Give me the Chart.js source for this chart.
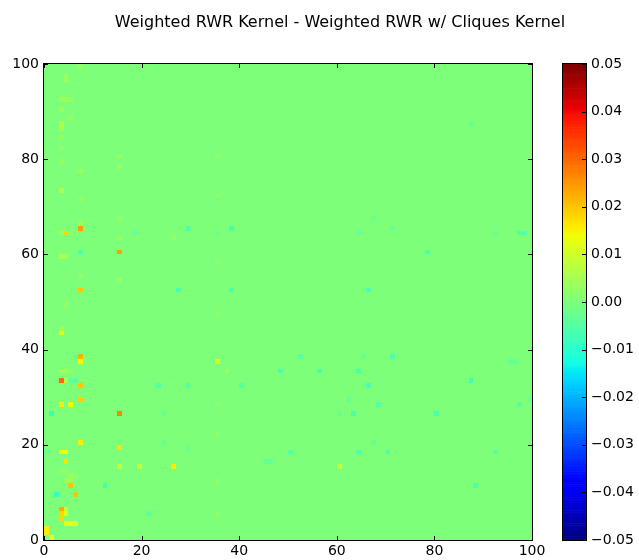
<!DOCTYPE html>
<html>
<head>
<meta charset="utf-8">
<script src="https://cdn.jsdelivr.net/npm/chart.js@4.4.0/dist/chart.umd.min.js"></script>
<style>
  body { margin: 0; background: #fff; }
  #wrap { position: relative; width: 639px; height: 560px; }
  #wrap canvas { position: absolute; top: 0; }
</style>
</head>
<body>
<div id="wrap">
  <canvas id="heat" width="639" height="560" style="left:0"></canvas>
  <canvas id="cbar" width="99" height="560" style="left:540px"></canvas>
</div>
<script>
'use strict';

var title = 'Weighted RWR Kernel - Weighted RWR w/ Cliques Kernel';
var nCols = 100, nRows = 100;
var axisTicks = [0, 20, 40, 60, 80, 100];
var vMin = -0.05, vMax = 0.05;
var cbarTicks = [-0.05, -0.04, -0.03, -0.02, -0.01, 0, 0.01, 0.02, 0.03, 0.04, 0.05];

// cells that differ from 0 (everything else reads as 0.00)
var hotCol = [7, 15, 7, 7, 3, 15, 3, 7, 6, 7, 4, 5, 6, 7, 7, 3, 5, 1, 7, 15,
  3, 4, 4, 5, 12, 2, 6, 3, 3, 3, 4, 4, 4, 5, 6, 0, 0, 1, 0, 4,
  18, 3, 4, 7, 3, 3, 3, 4, 4, 3, 4, 5, 3, 5, 7, 7, 3, 3, 3, 7,
  3, 5, 7, 3, 4, 3, 4, 5, 3, 4, 5, 6, 4, 5, 15, 15, 15, 15, 15, 15,
  19, 26, 26,
  29, 38, 27, 38, 35, 37, 48, 23, 29, 40, 35, 52, 97, 98, 78, 66, 65, 71, 56, 64,
  87, 66, 95, 96, 68, 62, 63, 80, 97, 99, 60, 50, 64, 70, 92, 60, 88, 67, 67, 64,
  92, 71, 24, 24, 45, 46, 21, 29, 87, 35, 35, 35, 35, 35, 35, 35, 35];
var hotRow = [65, 60, 60, 52, 33, 26, 43, 38, 38, 37, 33, 33, 33, 32, 29, 28, 28, 26, 20, 19,
  18, 18, 16, 11, 11, 9, 9, 6, 5, 4, 5, 6, 3, 3, 3, 2, 1, 0, 18, 64,
  64, 59, 59, 66, 73, 87, 86, 97, 96, 92, 92, 92, 90, 88, 99, 77, 79, 84, 82, 71,
  64, 64, 55, 44, 49, 35, 35, 35, 14, 14, 13, 13, 12, 12, 80, 78, 67, 63, 54, 15,
  15, 15, 63,
  65, 65, 52, 52, 37, 35, 35, 32, 32, 32, 64, 38, 64, 64, 60, 52, 38, 38, 35, 35,
  33, 32, 37, 37, 28, 29, 26, 26, 28, 29, 26, 18, 18, 18, 18, 15, 11, 20, 67, 64,
  64, 65, 26, 20, 16, 16, 5, 19, 87, 80, 72, 58, 47, 28, 22, 12, 5];
var hotVal = [0.024, 0.024, -0.006, 0.020, 0.030, 0.027, 0.013, 0.022, -0.003, 0.015,
  0.006, -0.003, -0.004, 0.020, 0.019, 0.016, 0.013, -0.008, 0.016, 0.017,
  0.014, 0.014, 0.017, 0.020, -0.007, -0.009, 0.020, 0.023, 0.018, 0.018,
  0.012, 0.008, 0.013, 0.013, 0.012, 0.016, 0.016, 0.012, -0.003, 0.018,
  -0.003, 0.006, 0.005, 0.004, 0.007, 0.006, 0.005, 0.004, 0.004, 0.004,
  0.004, 0.003, 0.004, 0.003, 0.003, 0.004, 0.003, 0.003, 0.002, 0.002,
  0.004, 0.003, 0.002, 0.004, 0.003, 0.004, 0.004, 0.003, 0.003, 0.003,
  0.003, 0.002, 0.004, 0.004, 0.004, 0.004, 0.003, 0.004, 0.004, 0.008,
  0.008, 0.016, 0.003,
  -0.007, -0.007, -0.006, -0.006, 0.011, 0.004, -0.006, -0.005, -0.005, -0.005,
  -0.002, -0.004, -0.005, -0.005, -0.007, -0.006, -0.003, -0.006, -0.007, -0.007,
  -0.008, -0.006, -0.003, -0.003, -0.005, -0.003, -0.006, -0.006, -0.005, -0.003,
  -0.002, -0.005, -0.006, -0.006, -0.005, 0.008, -0.006, -0.003, -0.002, -0.003,
  -0.002, -0.002, -0.003, -0.003, -0.003, -0.003, -0.003, -0.002, -0.003, 0.002,
  0.002, 0.002, 0.002, 0.002, 0.002, 0.002, 0.002];

Chart.defaults.font.family = 'DejaVu Sans';
Chart.defaults.font.size = 14;
Chart.defaults.color = '#000';

// matplotlib "jet", 256 entries
var jetR = [[0, 0], [0.35, 0], [0.66, 1], [0.89, 1], [1, 0.5]];
var jetG = [[0, 0], [0.125, 0], [0.375, 1], [0.64, 1], [0.91, 0], [1, 0]];
var jetB = [[0, 0.5], [0.11, 1], [0.34, 1], [0.65, 0], [1, 0]];

function seg(pts, x) {
    for (var i = 1; i < pts.length; i++) {
        if (x <= pts[i][0]) {
            var a = pts[i - 1], b = pts[i];
            return a[1] + (b[1] - a[1]) * (x - a[0]) / (b[0] - a[0]);
        }
    }
    return pts[pts.length - 1][1];
}

function jetIndex(k) {
    var x = k / 255;
    return 'rgb(' + Math.round(seg(jetR, x) * 255) + ',' + Math.round(seg(jetG, x) * 255) + ',' + Math.round(seg(jetB, x) * 255) + ')';
}

function colorFor(v) {
    var t = (v - vMin) / (vMax - vMin);
    var k = Math.min(255, Math.max(0, Math.floor(t * 256)));
    return jetIndex(k);
}

// full grid
var grid = [];
for (var r = 0; r < nRows; r++) {
    grid.push([]);
    for (var c = 0; c < nCols; c++) grid[r].push(0);
}
for (var h = 0; h < hotCol.length; h++) grid[hotRow[h]][hotCol[h]] = hotVal[h];

var cells = [];
for (var r2 = 0; r2 < nRows; r2++) {
    for (var c2 = 0; c2 < nCols; c2++) cells.push({ x: c2, y: r2, v: grid[r2][c2] });
}

function fixTicks(list) {
    return function (scale) {
        scale.ticks = list.map(function (v) { return { value: v }; });
    };
}

var heatPlugin = {
    id: 'heat',
    beforeDatasetsDraw: function (chart) {
        var ctx = chart.ctx, xs = chart.scales.x, ys = chart.scales.y;
        var data = chart.data.datasets[0].data;
        ctx.save();
        data.forEach(function (d) {
            var x0 = Math.round(xs.getPixelForValue(d.x)), x1 = Math.round(xs.getPixelForValue(d.x + 1));
            var y0 = Math.round(ys.getPixelForValue(d.y + 1)), y1 = Math.round(ys.getPixelForValue(d.y));
            ctx.fillStyle = colorFor(d.v);
            ctx.fillRect(x0, y0, x1 - x0, y1 - y0);
        });
        ctx.restore();
    },
    afterDraw: function (chart) {
        var ctx = chart.ctx, a = chart.chartArea, xs = chart.scales.x, ys = chart.scales.y;
        ctx.save();
        ctx.strokeStyle = '#000';
        ctx.lineWidth = 1;
        ctx.beginPath();
        axisTicks.forEach(function (v) {
            var px = Math.round(xs.getPixelForValue(v)) + 0.5;
            ctx.moveTo(px, a.bottom); ctx.lineTo(px, a.bottom - 4);
            ctx.moveTo(px, a.top); ctx.lineTo(px, a.top + 4);
            var py = Math.round(ys.getPixelForValue(v)) + 0.5;
            ctx.moveTo(a.left, py); ctx.lineTo(a.left + 4, py);
            ctx.moveTo(a.right, py); ctx.lineTo(a.right - 4, py);
        });
        ctx.stroke();
        ctx.strokeRect(Math.round(a.left) - 0.5, Math.round(a.top) - 0.5, Math.round(a.right - a.left) + 1, Math.round(a.bottom - a.top) + 1);
        ctx.fillStyle = '#000';
        ctx.font = '16px "DejaVu Sans"';
        ctx.textAlign = 'center';
        ctx.textBaseline = 'middle';
        ctx.fillText(title, 340, 23);
        ctx.restore();
    }
};

new Chart(document.getElementById('heat'), {
    type: 'scatter',
    data: { datasets: [{ data: cells, pointRadius: 0, showLine: false }] },
    options: {
        responsive: false,
        animation: false,
        layout: { padding: { left: 0, top: 64, right: 107, bottom: 0 } },
        plugins: { legend: { display: false }, tooltip: { enabled: false } },
        scales: {
            x: {
                type: 'linear', min: 0, max: 100,
                afterBuildTicks: fixTicks(axisTicks),
                afterFit: function (s) { s.height = 20; },
                ticks: { padding: 3, maxRotation: 0, autoSkip: false },
                grid: { display: false, drawTicks: false },
                border: { display: false }
            },
            y: {
                type: 'linear', min: 0, max: 100,
                afterBuildTicks: fixTicks(axisTicks),
                afterFit: function (s) { s.width = 44; },
                ticks: { padding: 5, autoSkip: false },
                grid: { display: false, drawTicks: false },
                border: { display: false }
            }
        }
    },
    plugins: [heatPlugin]
});

var cbarPlugin = {
    id: 'cbar',
    beforeDatasetsDraw: function (chart) {
        var ctx = chart.ctx, a = chart.chartArea, ys = chart.scales.y;
        ctx.save();
        for (var k = 0; k < 256; k++) {
            var v0 = vMin + (vMax - vMin) * k / 256, v1 = vMin + (vMax - vMin) * (k + 1) / 256;
            var yTop = ys.getPixelForValue(v1), yBot = ys.getPixelForValue(v0);
            ctx.fillStyle = jetIndex(k);
            ctx.fillRect(a.left, yTop, a.right - a.left, yBot - yTop + 0.6);
        }
        ctx.restore();
    },
    afterDraw: function (chart) {
        var ctx = chart.ctx, a = chart.chartArea, ys = chart.scales.y;
        ctx.save();
        ctx.strokeStyle = '#000';
        ctx.lineWidth = 1;
        ctx.beginPath();
        cbarTicks.forEach(function (v) {
            var py = Math.round(ys.getPixelForValue(v)) + 0.5;
            ctx.moveTo(a.right, py); ctx.lineTo(a.right - 4, py);
        });
        ctx.stroke();
        ctx.strokeRect(Math.round(a.left) - 0.5, Math.round(a.top) - 0.5, Math.round(a.right - a.left) + 1, Math.round(a.bottom - a.top) + 1);
        ctx.restore();
    }
};

new Chart(document.getElementById('cbar'), {
    type: 'scatter',
    data: { datasets: [{ data: [], pointRadius: 0 }] },
    options: {
        responsive: false,
        animation: false,
        layout: { padding: { left: 23, top: 64, right: 0, bottom: 20 } },
        plugins: { legend: { display: false }, tooltip: { enabled: false } },
        scales: {
            x: { display: false, min: 0, max: 1 },
            y: {
                type: 'linear', position: 'right', min: vMin, max: vMax,
                afterBuildTicks: fixTicks(cbarTicks),
                afterFit: function (s) { s.width = 53; },
                ticks: {
                    padding: 5, autoSkip: false,
                    callback: function (v) {
                        if (Math.abs(v) < 1e-9) return '0.00';
                        return (v < 0 ? '\u2212' : '') + Math.abs(v).toFixed(2);
                    }
                },
                grid: { display: false, drawTicks: false },
                border: { display: false }
            }
        }
    },
    plugins: [cbarPlugin]
});
</script>
</body>
</html>
